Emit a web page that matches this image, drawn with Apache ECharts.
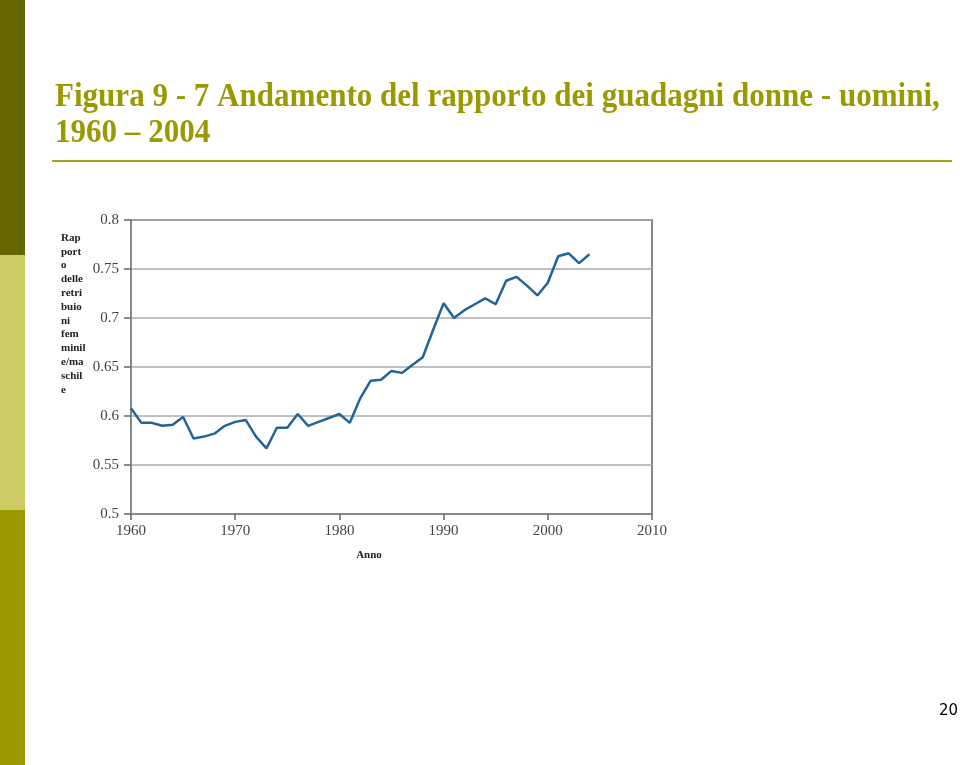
<!DOCTYPE html>
<html>
<head>
<meta charset="utf-8">
<script src="https://cdn.jsdelivr.net/npm/echarts@6/dist/echarts.min.js"></script>
<style>
html,body{margin:0;padding:0;background:#fff;}
#chart{width:960px;height:765px;}
</style>
</head>
<body>
<div id="chart"></div>
<script>
const years = [1960,1961,1962,1963,1964,1965,1966,1967,1968,1969,1970,1971,1972,1973,1974,1975,1976,1977,1978,1979,1980,1981,1982,1983,1984,1985,1986,1987,1988,1989,1990,1991,1992,1993,1994,1995,1996,1997,1998,1999,2000,2001,2002,2003,2004];
const ratio = [0.608,0.593,0.593,0.590,0.591,0.599,0.577,0.579,0.582,0.590,0.594,0.596,0.579,0.567,0.588,0.588,0.602,0.590,0.594,0.598,0.602,0.593,0.618,0.636,0.637,0.646,0.644,0.652,0.660,0.688,0.715,0.700,0.708,0.714,0.720,0.714,0.738,0.742,0.733,0.723,0.736,0.763,0.766,0.756,0.765];
const titleLine1 = 'Figura 9 - 7 Andamento del rapporto dei guadagni donne - uomini,';
const titleLine2 = '1960 \u2013 2004';
const yAxisName = 'Rap\nport\no\ndelle\nretri\nbuio\nni\nfem\nminil\ne/ma\nschil\ne';
const xAxisName = 'Anno';
const pageNumber = '20';

const chart = echarts.init(document.getElementById('chart'), null, {renderer:'canvas'});
const serif = '"Liberation Serif","DejaVu Serif",serif';
chart.setOption({
  animation:false,
  backgroundColor:'#fff',
  graphic:[
    {type:'rect', shape:{x:0,y:0,width:25,height:255}, style:{fill:'#666600'}},
    {type:'rect', shape:{x:0,y:255,width:25,height:255}, style:{fill:'#cccc66'}},
    {type:'rect', shape:{x:0,y:510,width:25,height:255}, style:{fill:'#999900'}},
    {type:'text', x:55, y:97, scaleX:0.913, style:{text:titleLine1, font:'bold 34px '+serif, fill:'#999900', textVerticalAlign:'middle'}},
    {type:'text', x:55, y:133, scaleX:0.913, style:{text:titleLine2, font:'bold 34px '+serif, fill:'#999900', textVerticalAlign:'middle'}},
    {type:'rect', shape:{x:52,y:160,width:900,height:2}, style:{fill:'#a3a322'}},
    {type:'text', x:61, y:231, style:{text:yAxisName, font:'bold 11px '+serif, fill:'#222', lineHeight:13.8}},
    {type:'text', x:369, y:555, style:{text:xAxisName, font:'bold 11px '+serif, fill:'#222', textAlign:'center', textVerticalAlign:'middle'}},
    {type:'text', x:958, y:711, style:{text:pageNumber, font:'15px "DejaVu Sans",sans-serif', fill:'#000', textAlign:'right', textVerticalAlign:'middle'}}
  ],
  grid:{left:131,right:308,top:220,bottom:251,show:true,borderColor:'#888',borderWidth:2,backgroundColor:'transparent'},
  xAxis:{
    type:'value', min:1960, max:2010, interval:10,
    axisLine:{show:true, lineStyle:{color:'#888', width:2}},
    axisTick:{show:true, length:6, lineStyle:{color:'#666', width:1.5}},
    axisLabel:{fontFamily:serif, fontSize:15, color:'#444', margin:10, formatter:v=>String(v)},
    splitLine:{show:false}
  },
  yAxis:{
    type:'value', min:0.5, max:0.8, interval:0.05,
    axisLine:{show:true, lineStyle:{color:'#888', width:2}},
    axisTick:{show:true, length:7, lineStyle:{color:'#666', width:1.5}},
    axisLabel:{fontFamily:serif, fontSize:15, color:'#444', margin:12},
    splitLine:{show:true, lineStyle:{color:'#aaa', width:1.5}}
  },
  series:[{
    type:'line',
    data:years.map((y,i)=>[y, ratio[i]]),
    showSymbol:false,
    lineStyle:{color:'#22649a', width:2.5},
    itemStyle:{color:'#22649a'}
  }]
});
</script>
</body>
</html>
